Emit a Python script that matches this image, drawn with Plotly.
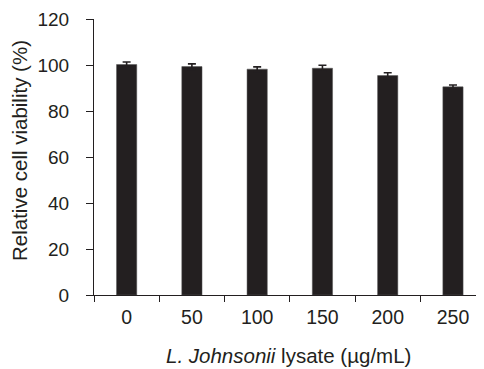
import plotly.graph_objects as go

categories = ["0", "50", "100", "150", "200", "250"]
viability = [100.2, 99.3, 98.2, 98.6, 95.4, 90.5]
errors = [1.1, 1.2, 1.0, 1.3, 1.2, 0.8]
y_ticks = [0, 20, 40, 60, 80, 100, 120]

ink = "#231f20"
font_family = "Liberation Sans, Arial, sans-serif"

fig = go.Figure()
fig.add_trace(go.Bar(
    x=categories,
    y=viability,
    width=0.31,
    marker=dict(color=ink, line=dict(color="#555555", width=0.5)),
    error_y=dict(type="data", array=errors, visible=True, color=ink,
                 thickness=1.6, width=4),
))

fig.update_layout(
    width=476, height=361,
    margin=dict(l=86, r=1, t=11, b=74),
    paper_bgcolor="white", plot_bgcolor="white",
    showlegend=False,
    font=dict(family=font_family, size=19, color=ink),
    xaxis=dict(
        type="category",
        range=[-0.5, 5.46],
        showline=True, linecolor=ink, linewidth=1,
        ticks="outside", ticklen=6, tickwidth=1, tickcolor=ink,
        tickson="boundaries",
        showgrid=False, zeroline=False,
        tickfont=dict(size=19.5, color=ink),
        ticklabelstandoff=5,
    ),
    yaxis=dict(
        range=[0, 120],
        tickvals=y_ticks,
        showline=True, linecolor=ink, linewidth=1,
        ticks="outside", ticklen=7, tickwidth=1, tickcolor=ink,
        showgrid=False, zeroline=False,
        tickfont=dict(size=19, color=ink),
        ticklabelstandoff=13,
    ),
    annotations=[
        dict(text="<i>L. Johnsonii</i> lysate (µg/mL)",
             xref="paper", yref="paper", x=0.5, y=-0.218,
             xanchor="center", yanchor="middle", showarrow=False,
             font=dict(size=20.5, color=ink, family=font_family)),
        dict(text="Relative cell viability (%)",
             xref="paper", yref="paper", x=-0.193, y=0.525,
             xanchor="center", yanchor="middle", showarrow=False,
             textangle=-90,
             font=dict(size=20.5, color=ink, family=font_family)),
    ],
)

fig.write_html("out.html")
